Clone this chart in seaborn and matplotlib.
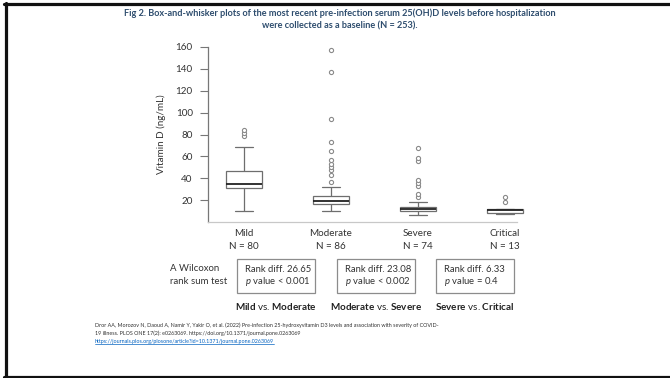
import matplotlib
matplotlib.use("Agg")
import matplotlib.pyplot as plt
from matplotlib.lines import Line2D
from matplotlib.patches import Rectangle
import seaborn as sns
import pandas as pd

# ---------------- data ----------------
categories = ["Mild", "Moderate", "Severe", "Critical"]
n_counts = [80, 86, 74, 13]
whisker_low = [10.2, 10.2, 6.0, 7.2]
q1 = [31.3, 16.3, 10.2, 8.4]
median = [34.3, 19.1, 11.8, 10.6]
q3 = [46.8, 24.0, 13.6, 11.5]
whisker_high = [68.2, 32.2, 18.0, 12.0]
outliers_mild = [78.5, 81.5, 84.0]
outliers_moderate = [36.9, 43.2, 47.5, 50.2, 53.2, 56.6, 64.8, 72.8, 94.1, 137.4, 157.3]
outliers_severe = [22.5, 25.5, 32.8, 35.9, 38.3, 55.8, 58.8, 67.3]
outliers_critical = [18.4, 23.0]
y_ticks = [20, 40, 60, 80, 100, 120, 140, 160]

comparisons = [("Mild", "Moderate"), ("Moderate", "Severe"), ("Severe", "Critical")]
rank_diffs = ["26.65", "23.08", "6.33"]
p_texts = ["< 0.001", "< 0.002", "= 0.4"]

title_text = ("Fig 2. Box-and-whisker plots of the most recent pre-infection serum 25(OH)D levels before hospitalization\n"
              "were collected as a baseline (N = 253).")
citation_lines = [
    "Dror AA, Morozov N, Daoud A, Namir Y, Yakir O, et al. (2022) Pre-infection 25-hydroxyvitamin D3 levels and association with severity of COVID-",
    "19 illness. PLOS ONE 17(2): e0263069. https://doi.org/10.1371/journal.pone.0263069",
]
link_text = "https://journals.plos.org/plosone/article?id=10.1371/journal.pone.0263069"

# ---------------- frames ----------------
summary_rows = []
for i, c in enumerate(categories):
    for v in (whisker_low[i], q1[i], median[i], q3[i], whisker_high[i]):
        summary_rows.append({"group": c, "value": v})
df_box = pd.DataFrame(summary_rows)

out_rows = []
for c, vals in zip(categories, [outliers_mild, outliers_moderate, outliers_severe, outliers_critical]):
    for v in vals:
        out_rows.append({"group": c, "value": v})
df_out = pd.DataFrame(out_rows)

# ---------------- style ----------------
sns.set_theme(style="white")
FONT = "Lato"
plt.rcParams["font.family"] = [FONT, "DejaVu Sans"]
plt.rcParams["mathtext.fontset"] = "custom"
plt.rcParams["mathtext.rm"] = FONT
plt.rcParams["mathtext.bf"] = FONT + ":bold"
plt.rcParams["mathtext.it"] = FONT + ":italic"

W, H = 670, 378
fig = plt.figure(figsize=(W / 100, H / 100), dpi=100)
fig.patch.set_facecolor("white")


def fx(x):
    return x / W


def fy(y):
    return 1 - y / H


ax_left, ax_right, ax_top, ax_bottom = 208, 525, 47, 222
ax = fig.add_axes([fx(ax_left), fy(ax_bottom), fx(ax_right - ax_left), (ax_bottom - ax_top) / H])

sns.boxplot(data=df_box, x="group", y="value", order=categories, whis=(0, 100),
            width=0.41, color="white", linecolor="#6e6e6e", linewidth=0.9,
            showfliers=False, medianprops={"color": "#222222", "linewidth": 1.3},
            ax=ax)
sns.stripplot(data=df_out, x="group", y="value", order=categories, jitter=False,
              color="white", edgecolor="#8a8a8a", linewidth=0.8, size=3.0, ax=ax)

ax.set_xlim(-0.414, 3.23)
ax.set_ylim(0, 160)
ax.set_yticks(y_ticks)
ax.set_yticklabels([str(t) for t in y_ticks])
ax.set_xticks(range(len(categories)))
ax.set_xticklabels([f"{c}\nN = {n}" for c, n in zip(categories, n_counts)],
                   fontsize=7.1, color="#333333", linespacing=1.6)
ax.tick_params(axis="x", length=0, pad=5)
ax.tick_params(axis="y", length=6, width=0.8, color="#777777", pad=5,
               labelsize=7.1, labelcolor="#333333", left=True, direction="out")
ax.set_xlabel("")
ax.set_ylabel("Vitamin D (ng/mL)", fontsize=7.1, color="#333333", labelpad=7)
for s in ("top", "right"):
    ax.spines[s].set_visible(False)
ax.spines["left"].set_color("#777777")
ax.spines["left"].set_linewidth(0.9)
ax.spines["bottom"].set_color("#c8c8c8")
ax.spines["bottom"].set_linewidth(0.9)
ax.spines["bottom"].set_bounds(-0.414, 3.14)

# ---------------- title ----------------
fig.text(fx(340), fy(19.5), title_text, ha="center", va="center", fontsize=6.6,
         fontweight="bold", color="#2E4D6E", linespacing=1.55)

# ---------------- Wilcoxon panel ----------------
fig.text(fx(170), fy(275), "A Wilcoxon\nrank sum test", ha="left", va="center",
         fontsize=6.9, color="#333333", linespacing=1.5)
box_lefts = [237, 337, 436]
box_w, box_top, box_bot = 78, 259, 293
for bl, (a, b), rd, pt in zip(box_lefts, comparisons, rank_diffs, p_texts):
    fig.patches.append(Rectangle((fx(bl), fy(box_bot)), fx(box_w), (box_bot - box_top) / H,
                                 transform=fig.transFigure, fill=False,
                                 edgecolor="#8c8c8c", linewidth=0.9))
    fig.text(fx(bl + 8), fy(269.5), f"Rank diff. {rd}", ha="left", va="center",
             fontsize=6.8, color="#333333")
    fig.text(fx(bl + 8), fy(282), r"$\it{p}$" + f" value {pt}", ha="left", va="center",
             fontsize=6.8, color="#333333")
    fig.text(fx(bl + box_w / 2), fy(307), r"$\bf{" + a + r"}$ vs. $\bf{" + b + r"}$",
             ha="center", va="center", fontsize=7.1, color="#222222")

# ---------------- citation ----------------
fig.text(fx(95), fy(325), citation_lines[0], ha="left", va="center",
         fontsize=3.85, color="#333333")
fig.text(fx(95), fy(333), citation_lines[1], ha="left", va="center",
         fontsize=3.85, color="#333333")
link = fig.text(fx(95), fy(341), link_text, ha="left", va="center",
                fontsize=3.85, color="#0563C1")

# ---------------- frame ----------------
fig.lines.append(Line2D([fx(4), 1], [fy(3.5), fy(3.5)], transform=fig.transFigure,
                        color="#111111", linewidth=2.3))
fig.lines.append(Line2D([fx(5.5), fx(5.5)], [fy(2.5), fy(377)], transform=fig.transFigure,
                        color="#111111", linewidth=2.3))
fig.lines.append(Line2D([fx(4), 1], [fy(376.5), fy(376.5)], transform=fig.transFigure,
                        color="#111111", linewidth=2.3))

# underline for the link
fig.canvas.draw()
bb = link.get_window_extent(fig.canvas.get_renderer())
fig.lines.append(Line2D([bb.x0 / W, bb.x1 / W], [(bb.y0 - 0.5) / H, (bb.y0 - 0.5) / H],
                        transform=fig.transFigure, color="#0563C1", linewidth=0.5))

fig.savefig("out.png", dpi=100, facecolor="white")
